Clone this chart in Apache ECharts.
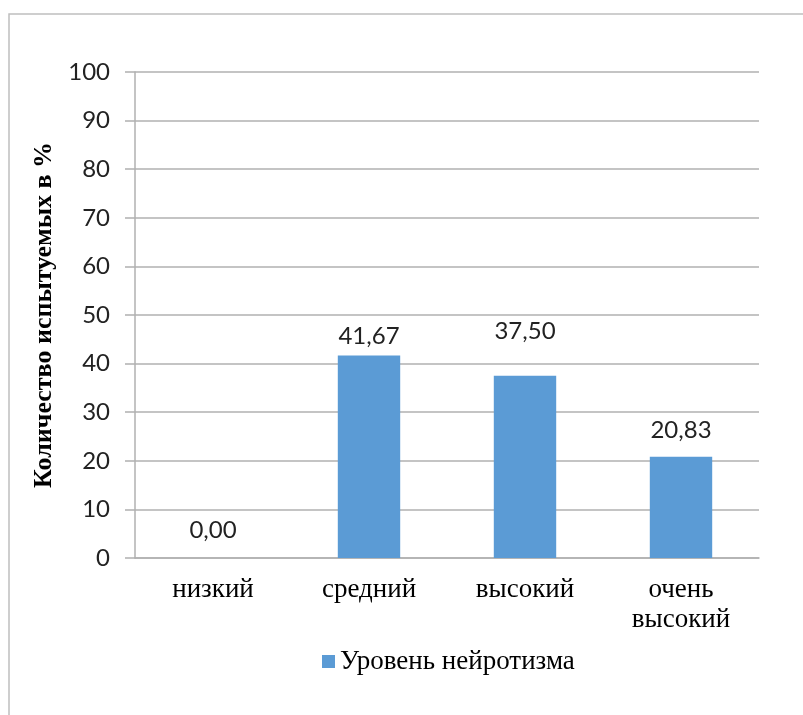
<!DOCTYPE html>
<html>
<head>
<meta charset="utf-8">
<script src="https://cdn.jsdelivr.net/npm/echarts@6/dist/echarts.min.js"></script>
<style>
  html, body { margin: 0; padding: 0; background: #fff; }
  #main { width: 803px; height: 715px; }
</style>
</head>
<body>
<div id="main"></div>
<script>
// данные диаграммы
const categories = ['низкий', 'средний', 'высокий', 'очень высокий'];
const values = [0.00, 41.67, 37.50, 20.83];
const seriesName = 'Уровень нейротизма';
const yTitle = 'Количество испытуемых в %';

const myChart = echarts.init(document.getElementById('main'));

// подписи в оригинале сдвинуты вручную, поэтому отступ у каждой свой
const labelLift = [16, 7, 32, 15];

const option = {
  backgroundColor: '#fff',
  animation: false,
  graphic: [{
    type: 'rect',
    shape: { x: 9, y: 14, width: 900, height: 800 },
    style: { fill: 'none', stroke: '#bfbfbf', lineWidth: 1.5 },
    silent: true
  }],
  grid: { left: 135, right: 44, top: 72, bottom: 157 },
  legend: {
    data: [seriesName],
    top: 643,
    left: 317,
    itemWidth: 13,
    itemHeight: 13,
    icon: 'rect',
    textStyle: { fontFamily: 'Liberation Serif', fontSize: 27, color: '#000' }
  },
  xAxis: {
    type: 'category',
    data: categories,
    axisLine: { lineStyle: { color: '#b0b0b0', width: 1.5 } },
    axisTick: { show: false },
    axisLabel: {
      interval: 0,
      margin: 17,
      fontFamily: 'Liberation Serif',
      fontSize: 27,
      lineHeight: 30,
      color: '#000',
      formatter: v => v.replace(' ', '\n')
    }
  },
  yAxis: {
    type: 'value',
    min: 0,
    max: 100,
    interval: 10,
    name: yTitle,
    nameLocation: 'middle',
    nameGap: 75,
    nameRotate: 90,
    nameTextStyle: { fontFamily: 'Liberation Serif', fontWeight: 'bold', fontSize: 26, color: '#000' },
    axisLine: { show: true, lineStyle: { color: '#b0b0b0', width: 1.5 } },
    axisTick: { show: true, length: 10, lineStyle: { color: '#b0b0b0', width: 1.5 } },
    splitLine: { lineStyle: { color: '#b0b0b0', width: 1.5 } },
    axisLabel: { margin: 25, fontFamily: 'Lato', fontSize: 24, color: '#222' }
  },
  series: [{
    name: seriesName,
    type: 'bar',
    barWidth: '40%',
    itemStyle: { color: '#5B9BD5' },
    data: values.map((v, i) => ({
      value: v,
      label: { distance: labelLift[i] }
    })),
    label: {
      show: true,
      position: 'top',
      fontFamily: 'Lato',
      fontSize: 24,
      color: '#222',
      formatter: p => p.value.toFixed(2).replace('.', ',')
    }
  }]
};

myChart.setOption(option);
</script>
</body>
</html>
